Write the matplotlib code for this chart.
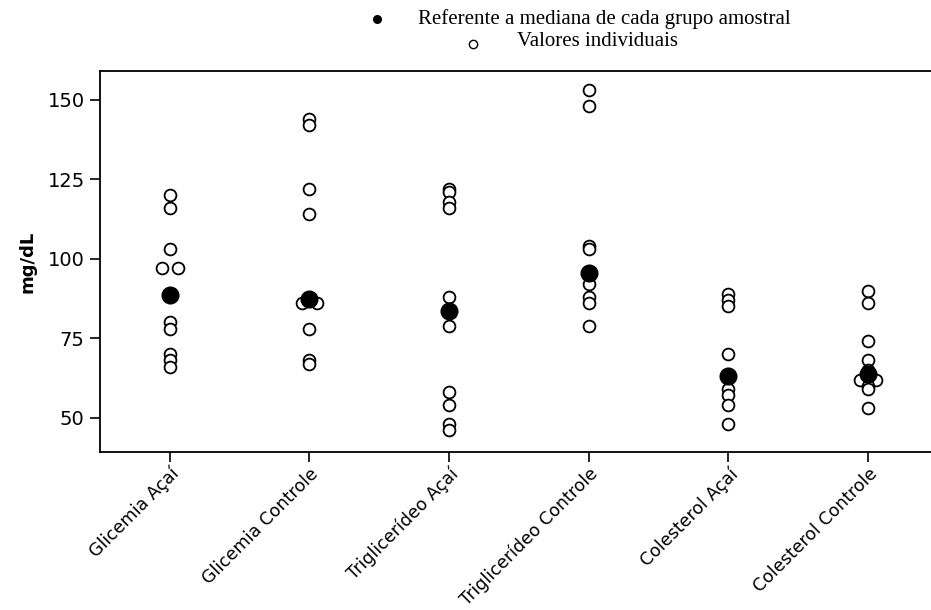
import numpy as np
import matplotlib.pyplot as plt

grupos = ["Glicemia Açaí", "Glicemia Controle", "Triglicerídeo Açaí",
          "Triglicerídeo Controle", "Colesterol Açaí", "Colesterol Controle"]

glicemia_acai = [120, 116, 103, 97, 97, 80, 78, 70, 68, 66]
glicemia_controle = [144, 142, 122, 114, 86, 86, 78, 68, 67]
trig_acai = [122, 121, 118, 116, 88, 79, 58, 54, 48, 46]
trig_controle = [153, 148, 104, 103, 96, 95, 92, 88, 86, 79]
colest_acai = [89, 87, 85, 70, 63, 59, 57, 54, 48]
colest_controle = [90, 86, 74, 68, 65, 62, 62, 60, 59, 53]

medianas = [88.6, 87.2, 83.6, 95.6, 63.0, 63.6]

valores = [glicemia_acai, glicemia_controle, trig_acai,
           trig_controle, colest_acai, colest_controle]

yticks = [50, 75, 100, 125, 150]

OFFSET = 0.055


def posicoes(i, vals):
    xs = []
    for k, v in enumerate(vals):
        n = vals.count(v)
        j = vals[:k].count(v)
        xs.append(i + (j - (n - 1) / 2) * 2 * OFFSET)
    return xs


fig = plt.figure(figsize=(9.31, 6.10), dpi=100)
ax = fig.add_axes([0.1074, 0.259, 0.8926, 0.6246])

for i, vals in enumerate(valores):
    ax.plot(posicoes(i, vals), vals, 'o', ms=8.5, mfc='white', mec='black',
            mew=1.3, linestyle='none')

ax.plot(range(len(grupos)), medianas, 'o', ms=12, color='black',
        linestyle='none', zorder=5)

ax.set_xlim(-0.5, 5.45)
ax.set_ylim(39.2, 159.1)
ax.set_yticks(yticks)
ax.set_yticklabels([str(t) for t in yticks], fontsize=14)
ax.set_xticks(range(len(grupos)))
ax.set_xticklabels(grupos, fontsize=12.5, rotation=45, ha='right',
                   rotation_mode='anchor')
ax.tick_params(axis='y', direction='out', length=7, width=1.2, pad=4)
ax.tick_params(axis='x', direction='out', length=7, width=1.2, pad=2)
ax.spines['right'].set_visible(False)
for s in ['left', 'bottom', 'top']:
    ax.spines[s].set_linewidth(1.3)
ax.set_ylabel("mg/dL", fontsize=13, fontweight='bold', labelpad=8)

# legenda no topo
fig.text(418 / 931, 1 - 19 / 610, "Referente a mediana de cada grupo amostral",
         family='Liberation Serif', fontsize=15, va='center')
fig.text(517 / 931, 1 - 42 / 610, "Valores individuais",
         family='Liberation Serif', fontsize=15, va='center')
fig.add_artist(plt.Line2D([377 / 931], [1 - 19 / 610], marker='o', ms=5.5,
                          color='black', transform=fig.transFigure))
fig.add_artist(plt.Line2D([473 / 931], [1 - 44 / 610], marker='o', ms=6,
                          mfc='white', mec='black', mew=1,
                          transform=fig.transFigure))

fig.savefig("out.png", dpi=100)
